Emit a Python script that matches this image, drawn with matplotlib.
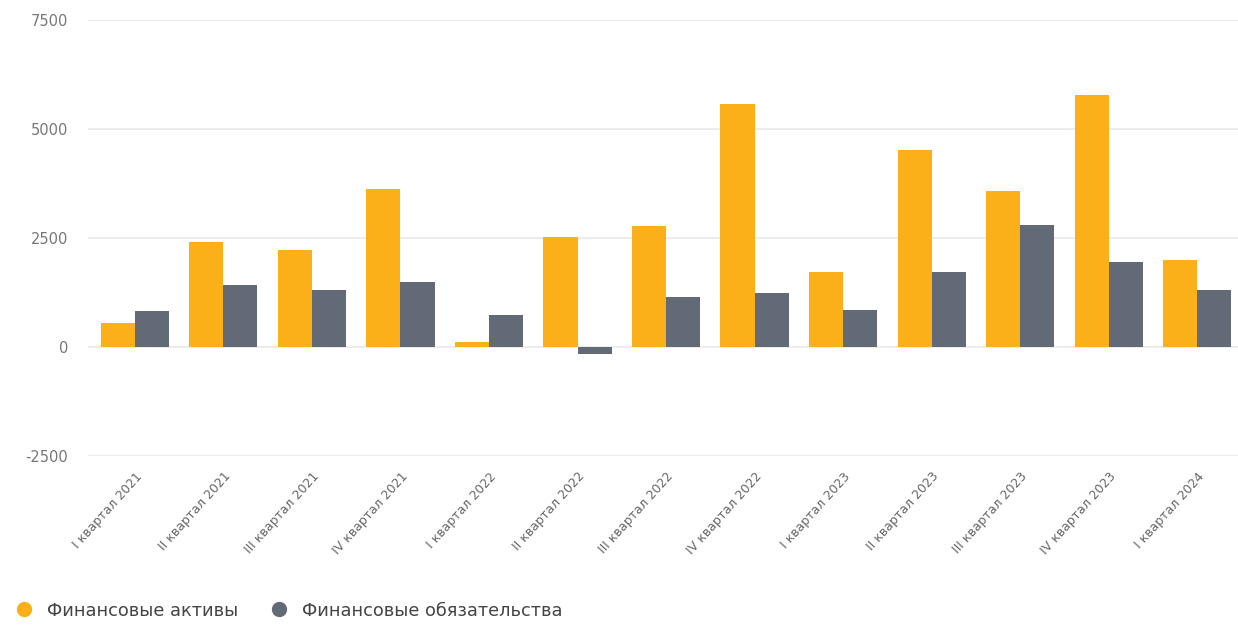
import numpy as np
import matplotlib.pyplot as plt
from matplotlib.lines import Line2D

# --------------------------
# Data
# --------------------------
quarters = ["I", "II", "III", "IV", "I", "II", "III", "IV", "I", "II", "III", "IV", "I"]
years = [2021, 2021, 2021, 2021, 2022, 2022, 2022, 2022, 2023, 2023, 2023, 2023, 2024]
labels = [f"{q} квартал {y}" for q, y in zip(quarters, years)]

assets = [550, 2400, 2220, 3620, 120, 2530, 2780, 5570, 1720, 4520, 3580, 5790, 2000]
liabilities = [830, 1420, 1310, 1500, 730, -160, 1150, 1240, 840, 1720, 2790, 1960, 1310]

orange = "#FBB01A"
gray = "#626A78"

# --------------------------
# Figure
# --------------------------
fig = plt.figure(figsize=(12.38, 6.28), dpi=100)
ax = fig.add_axes([0.071, 0.274, 0.929, 0.694])

x = np.arange(len(labels))
w = 0.385
ax.bar(x - w / 2, assets, width=w, color=orange, zorder=3)
ax.bar(x + w / 2, liabilities, width=w, color=gray, zorder=3)

ax.set_xlim(-0.53, 12.46)
ax.set_ylim(-2500, 7500)
ax.set_yticks([-2500, 0, 2500, 5000, 7500])
ax.set_yticklabels(["-2500", "0", "2500", "5000", "7500"])
ax.grid(axis="y", color="#EBEBEB", linewidth=1.3, zorder=0)

for s in ax.spines.values():
    s.set_visible(False)

ax.tick_params(axis="y", length=0, pad=14, labelsize=10.5, labelcolor="#777777")
ax.tick_params(axis="x", length=0, pad=10)
ax.set_xticks(x)
ax.set_xticklabels(labels, rotation=48, ha="right", rotation_mode="anchor",
                   fontsize=9, color="#666666")

# --------------------------
# Legend
# --------------------------
handles = [
    Line2D([], [], marker="o", linestyle="", color=orange, markersize=10),
    Line2D([], [], marker="o", linestyle="", color=gray, markersize=10),
]
fig.legend(handles, ["Финансовые активы", "Финансовые обязательства"],
           loc="lower left", bbox_to_anchor=(-0.008, -0.012), ncol=2, frameon=False,
           fontsize=12.8, handletextpad=0.3, columnspacing=1.3, labelcolor="#444444")

fig.savefig("out.png", dpi=100, facecolor="white")
